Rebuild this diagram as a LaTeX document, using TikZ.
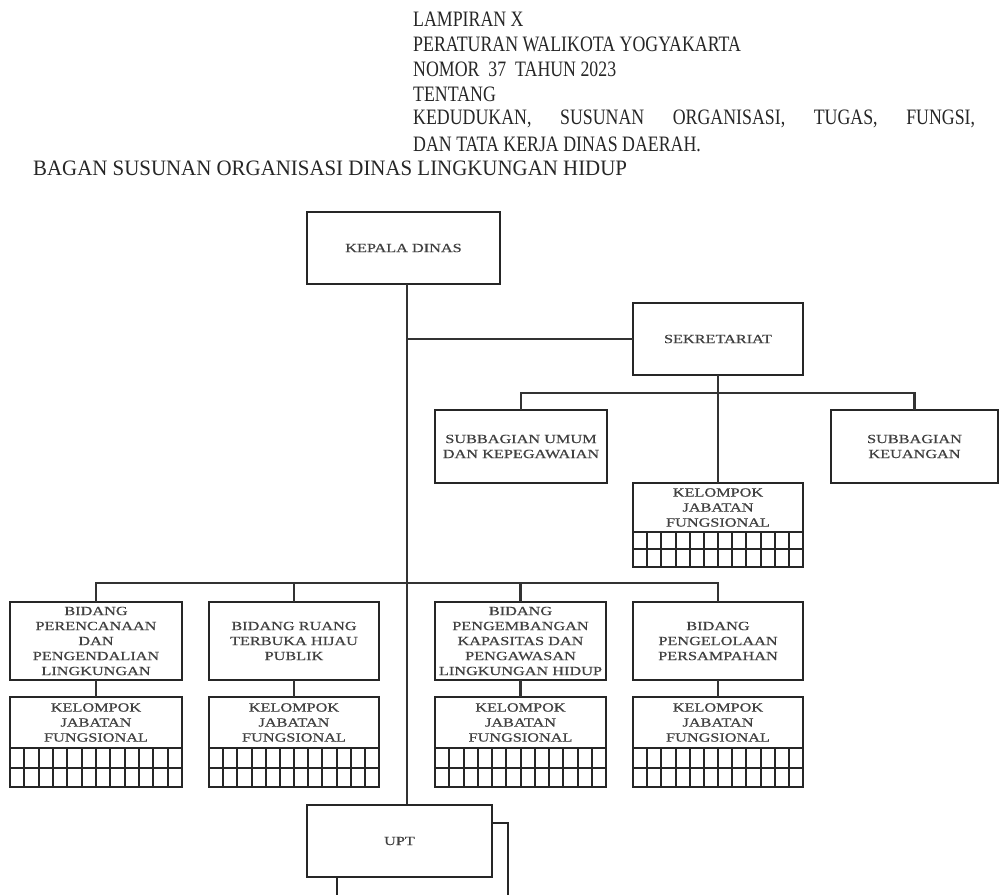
\documentclass[tikz,border=0pt]{standalone}
\usepackage{fontspec}
\setmainfont{Liberation Serif}
\newfontfamily\bxfont{Liberation Serif}[FakeStretch=1.3,FakeBold=0.6]
\newfontfamily\hdfont{Liberation Serif}[FakeStretch=0.81]
\newfontfamily\hdwfont{Liberation Serif}[FakeStretch=0.95]
\usetikzlibrary{calc}
\newcommand\jfgrid[3]{%
  \draw[gridl] (#1.south west) rectangle ($(#1.south east)+(0,#2)$);
  \draw[gridl] ($(#1.south west)+(0,#3)$) -- ($(#1.south east)+(0,#3)$);
  \foreach \i in {1,...,11}{\draw[gridl] ($(#1.south west)!\i/12!(#1.south east)$) -- ++(0,#2);}
}
\begin{document}
\begin{tikzpicture}[x=1pt,y=-1pt,
  box/.style={draw=black!85, line width=2.5pt, fill=white, inner sep=0pt, outer sep=0pt,
    align=center, font=\bxfont\fontsize{12.5}{15}\selectfont, text=black!75},
  conn/.style={draw=black!80, line width=2.6pt},
  gridl/.style={draw=black!85, line width=2pt},
  hdr/.style={anchor=west, inner sep=0pt, font=\hdfont\fontsize{22}{26}\selectfont, text=black!85}]
\clip (0,0) rectangle (1000,894);
\fill[white] (0,0) rectangle (1000,894);

% header
\node[hdr] (h1) at (413,19) {LAMPIRAN X};
\node[hdr] (h2) at (413,44) {PERATURAN WALIKOTA YOGYAKARTA};
\node[hdr] (h3) at (413,69) {NOMOR\ \ 37\ \ TAHUN 2023};
\node[hdr] (h4) at (413,94) {TENTANG};
\node[hdr] (h5) at (413,119) {\hbox to 562pt{KEDUDUKAN,\hfil SUSUNAN\hfil ORGANISASI,\hfil TUGAS,\hfil FUNGSI,}};
\node[hdr] (h6) at (413,144) {DAN TATA KERJA DINAS DAERAH.};
\node[hdr, font=\hdwfont\fontsize{22}{26}\selectfont] (h7) at (33,168) {BAGAN SUSUNAN ORGANISASI DINAS LINGKUNGAN HIDUP};

\coordinate (spine) at (407,0);
\coordinate (busA) at (0,393);
\coordinate (busB) at (0,583);
\coordinate (upttop) at (0,805);

% boxes
\node[box, minimum width=193, minimum height=72, text width=185] (kepala) at (403.5,248) {KEPALA DINAS};
\node[box, minimum width=170, minimum height=72, text width=164] (sek) at (718,339) {SEKRETARIAT};
\node[box, minimum width=172, minimum height=73, text width=168] (subumum) at (521,446.5) {SUBBAGIAN UMUM\\DAN KEPEGAWAIAN};
\node[box, minimum width=167, minimum height=73, text width=160] (subkeu) at (914.5,446.5) {SUBBAGIAN\\KEUANGAN};
\node[box, minimum width=170, minimum height=49, text width=164] (ksek) at (718,507.5) {KELOMPOK\\JABATAN\\FUNGSIONAL};

\node[box, minimum width=172, minimum height=78, text width=168] (b1) at (96,641) {BIDANG\\PERENCANAAN\\DAN\\PENGENDALIAN\\LINGKUNGAN};
\node[box, minimum width=170, minimum height=78, text width=166] (b2) at (294,641) {BIDANG RUANG\\TERBUKA HIJAU\\PUBLIK};
\node[box, minimum width=171, minimum height=78, text width=167] (b3) at (520.5,641) {BIDANG\\PENGEMBANGAN\\KAPASITAS DAN\\PENGAWASAN\\LINGKUNGAN HIDUP};
\node[box, minimum width=170, minimum height=78, text width=166] (b4) at (718,641) {BIDANG\\PENGELOLAAN\\PERSAMPAHAN};

\node[box, minimum width=172, minimum height=51, text width=166] (k1) at (96,722.5) {KELOMPOK\\JABATAN\\FUNGSIONAL};
\node[box, minimum width=170, minimum height=51, text width=164] (k2) at (294,722.5) {KELOMPOK\\JABATAN\\FUNGSIONAL};
\node[box, minimum width=171, minimum height=51, text width=165] (k3) at (520.5,722.5) {KELOMPOK\\JABATAN\\FUNGSIONAL};
\node[box, minimum width=170, minimum height=51, text width=164] (k4) at (718,722.5) {KELOMPOK\\JABATAN\\FUNGSIONAL};

% connectors
\draw[conn] (kepala.south -| spine) -- (upttop -| spine);
\draw[conn] (spine |- sek.west) -- (sek.west);
\draw[conn] (sek.south) -- (ksek.north);
\draw[conn] (subumum.north) |- (subkeu.north |- busA) -- (subkeu.north);
\draw[conn] (b1.north) |- (b4.north |- busB) -- (b4.north);
\draw[conn] (b2.north) -- (b2.north |- busB);
\draw[conn] (b3.north) -- (b3.north |- busB);
\foreach \b/\k in {b1/k1,b2/k2,b3/k3,b4/k4}{\draw[conn] (\b.south) -- (\k.north);}

% grids
\jfgrid{ksek}{35}{17}
\jfgrid{k1}{39}{20}
\jfgrid{k2}{39}{20}
\jfgrid{k3}{39}{20}
\jfgrid{k4}{39}{20}

% UPT with shadow
\draw[draw=black!85, line width=2.5pt, fill=white] (337,823) rectangle (508,910);
\node[box, minimum width=185, minimum height=72, text width=178] (upt) at (399.5,841) {UPT};
\end{tikzpicture}
\end{document}
